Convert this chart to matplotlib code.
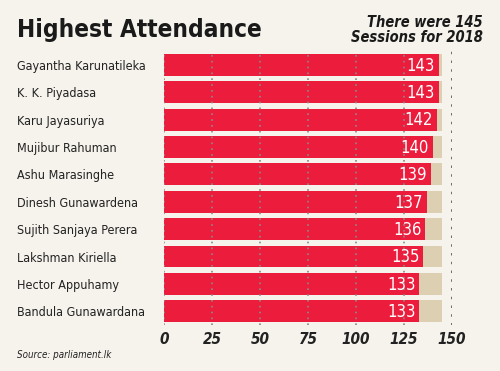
import matplotlib.pyplot as plt

# data
names = ["Gayantha Karunatileka", "K. K. Piyadasa", "Karu Jayasuriya",
         "Mujibur Rahuman", "Ashu Marasinghe", "Dinesh Gunawardena",
         "Sujith Sanjaya Perera", "Lakshman Kiriella", "Hector Appuhamy",
         "Bandula Gunawardana"]
attended = [143, 143, 142, 140, 139, 137, 136, 135, 133, 133]
total_sessions = 145
ticks = [0, 25, 50, 75, 100, 125, 150]

bg = "#f6f3ec"
red = "#ec1c3c"
beige = "#dccfb2"
cond = "condensed"

fig = plt.figure(figsize=(5, 3.71), dpi=100, facecolor=bg)
ax = fig.add_axes([0.328, 0.124, 0.576, 0.738])
ax.set_facecolor(bg)

y = list(range(len(names)))
ax.barh(y, [total_sessions] * len(names), height=0.8, color=beige, zorder=1)
ax.barh(y, attended, height=0.8, color=red, zorder=1.5)

for yi, v in zip(y, attended):
    ax.text(v - 2, yi + 0.03, str(v), color="white", fontsize=12,
            family="DejaVu Sans", stretch=cond, ha="right", va="center", zorder=3)

ax.set_xlim(0, 150)
ax.set_ylim(len(names) - 0.5, -0.5)
ax.set_xticks(ticks)
ax.set_xticklabels([str(t) for t in ticks], fontsize=11, fontweight="bold",
                   style="italic", family="DejaVu Sans", stretch=cond, color="#222222")
ax.set_yticks(y)
ax.set_yticklabels(names, fontsize=9, family="DejaVu Sans", stretch=cond,
                   color="#222222")
for lab in ax.get_yticklabels():
    lab.set_horizontalalignment("left")
ax.tick_params(axis="y", length=0, pad=106)
ax.tick_params(axis="x", length=0, pad=5)

# dotted grid drawn over the bars
ax.set_axisbelow(False)
ax.xaxis.grid(True, color="#8a8a8a", linestyle=(0, (1, 2.5)), linewidth=1.2)
for s in ["top", "left", "bottom", "right"]:
    ax.spines[s].set_visible(False)
ax.get_xgridlines()[-1].set_color("#444444")
ax.get_xgridlines()[-1].set_linewidth(1.8)

fig.text(0.034, 0.918, "Highest Attendance", fontsize=17.5, fontweight="bold",
         family="DejaVu Sans", stretch=cond, color="#1a1a1a", va="center", ha="left")
fig.text(0.965, 0.92, "There were 145\nSessions for 2018", fontsize=10.5,
         fontweight="bold", style="italic", family="DejaVu Sans", stretch=cond,
         color="#1a1a1a", va="center", ha="right", linespacing=1.0)
fig.text(0.034, 0.043, "Source: parliament.lk", fontsize=7, style="italic",
         family="DejaVu Sans", stretch=cond, color="#222222",
         va="center", ha="left")

fig.savefig("out.png", dpi=100, facecolor=bg)
